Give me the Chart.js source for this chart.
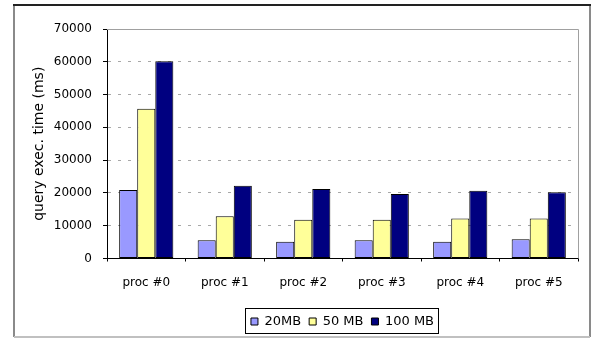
<!DOCTYPE html>
<html>
<head>
<meta charset="utf-8">
<script src="https://cdn.jsdelivr.net/npm/chart.js@4/dist/chart.umd.min.js"></script>
<style>
  html, body { margin: 0; padding: 0; background: #fff; }
  #wrap { width: 592px; height: 339px; position: relative; }
</style>
</head>
<body>
<div id="wrap"><canvas id="c" width="592" height="339"></canvas></div>
<script>
// Query execution time per process, for three database sizes
const categories = ['proc #0', 'proc #1', 'proc #2', 'proc #3', 'proc #4', 'proc #5'];
const series20MB  = [20900, 5600, 5100, 5600, 5100, 5900];
const series50MB  = [45700, 12900, 11800, 11800, 12200, 12200];
const series100MB = [60200, 22200, 21200, 19700, 20700, 20200];
const seriesNames = ['20MB', '50 MB', '100 MB'];
const yTicks = [0, 10000, 20000, 30000, 40000, 50000, 60000, 70000];

const FONT = 'DejaVu Sans';

// outer frame, plot-area border and legend box
const framePlugin = {
  id: 'frame',
  afterDraw(chart) {
    const ctx = chart.ctx;
    const a = chart.chartArea;
    ctx.save();
    // plot area top and right edges
    ctx.strokeStyle = '#a0a0a0';
    ctx.lineWidth = 1;
    ctx.beginPath();
    ctx.moveTo(a.left, Math.round(a.top) + 0.5);
    ctx.lineTo(Math.round(a.right) + 0.5, Math.round(a.top) + 0.5);
    ctx.lineTo(Math.round(a.right) + 0.5, a.bottom);
    ctx.stroke();
    // legend border
    const boxes = chart.legend.legendHitBoxes;
    if (boxes && boxes.length) {
      let l = Infinity, r = -Infinity, t = Infinity, b = -Infinity;
      boxes.forEach(h => {
        l = Math.min(l, h.left); r = Math.max(r, h.left + h.width);
        t = Math.min(t, h.top); b = Math.max(b, h.top + h.height);
      });
      ctx.strokeStyle = '#000';
      ctx.lineWidth = 1;
      ctx.strokeRect(Math.round(l) - 5.5, Math.round(t) - 6.5, Math.round(r - l) + 10, Math.round(b - t) + 12);
    }
    // outer frame
    ctx.lineWidth = 2;
    ctx.strokeStyle = '#8a8a8a';
    ctx.beginPath();
    ctx.moveTo(14, 5); ctx.lineTo(14, 337);
    ctx.moveTo(590, 5); ctx.lineTo(590, 337);
    ctx.stroke();
    ctx.strokeStyle = '#c0c0c0';
    ctx.beginPath();
    ctx.moveTo(14, 337); ctx.lineTo(590, 337);
    ctx.stroke();
    ctx.strokeStyle = '#222';
    ctx.beginPath();
    ctx.moveTo(13, 5); ctx.lineTo(591, 5);
    ctx.stroke();
    ctx.restore();
  }
};

new Chart(document.getElementById('c'), {
  type: 'bar',
  data: {
    labels: categories,
    datasets: [
      { label: seriesNames[0], data: series20MB,  backgroundColor: '#9999ff', borderColor: '#000', borderWidth: 1 },
      { label: seriesNames[1], data: series50MB,  backgroundColor: '#ffff99', borderColor: '#000', borderWidth: 1 },
      { label: seriesNames[2], data: series100MB, backgroundColor: '#000080', borderColor: '#000', borderWidth: 1 }
    ]
  },
  plugins: [framePlugin],
  options: {
    responsive: false,
    animation: false,
    devicePixelRatio: 1,
    layout: { padding: { left: 0, right: 14, top: 29, bottom: 1 } },
    datasets: { bar: { categoryPercentage: 0.69, barPercentage: 1.0, borderSkipped: false } },
    plugins: {
      tooltip: { enabled: false },
      legend: {
        position: 'bottom',
        fullSize: false,
        labels: {
          font: { family: FONT, size: 13 },
          color: '#000',
          boxWidth: 7,
          boxHeight: 7,
          padding: 8
        }
      }
    },
    scales: {
      x: {
        offset: true,
        grid: { display: true, drawOnChartArea: false, color: '#000', tickLength: 3, offset: true },
        border: { display: true, color: '#000', width: 1 },
        ticks: { font: { family: FONT, size: 12 }, color: '#000', padding: 14, maxRotation: 0 },
        afterFit(scale) { scale.height = 48.5; }
      },
      y: {
        min: 0,
        max: 70000,
        afterBuildTicks(scale) { scale.ticks = yTicks.map(v => ({ value: v })); },
        grid: {
          color: '#a8a8a8',
          lineWidth: 1,
          tickLength: 4,
          tickColor: '#000',
          tickBorderDash: []
        },
        border: { display: true, color: '#000', width: 1, dash: [3, 7] },
        ticks: {
          font: { family: FONT, size: 12 },
          color: '#000',
          padding: 11,
          callback: v => String(v)
        },
        title: {
          display: true,
          text: 'query exec. time (ms)',
          font: { family: FONT, size: 14 },
          color: '#000',
          padding: { top: 31, bottom: 0 }
        },
        afterFit(scale) { scale.width = 107; }
      }
    }
  }
});
</script>
</body>
</html>
